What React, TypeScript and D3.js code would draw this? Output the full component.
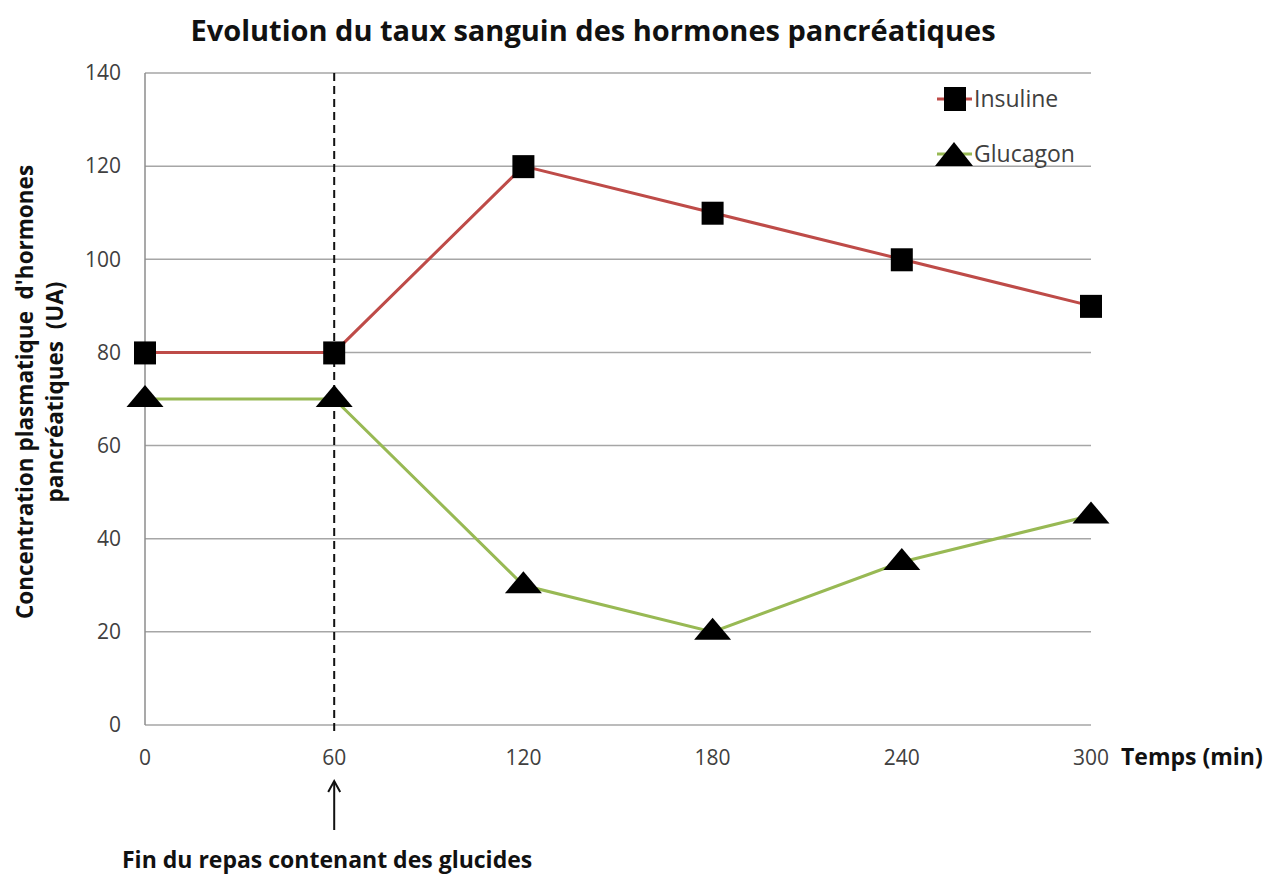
import React from "react";
import * as d3 from "d3";

const temps = [0, 60, 120, 180, 240, 300];
const insuline = [80, 80, 120, 110, 100, 90];
const glucagon = [70, 70, 30, 20, 35, 45];
const yTicks = [0, 20, 40, 60, 80, 100, 120, 140];

const W = 1280;
const H = 878;
const font = "'Open Sans', 'Noto Sans', sans-serif";

// flat black triangle marker, base a bit under the point
const triPath = (w: number, up: number, down: number) => {
  const p = d3.path();
  p.moveTo(0, -up);
  p.lineTo(w / 2, down);
  p.lineTo(-w / 2, down);
  p.closePath();
  return p.toString();
};

const App = () => {
  const x = d3.scaleLinear().domain([0, 300]).range([145, 1091]);
  const y = d3.scaleLinear().domain([0, 140]).range([725, 73]);

  const mkLine = d3
    .line<number>()
    .x((d, i) => x(temps[i]))
    .y((d) => y(d));

  const tri = triPath(37, 14, 8);

  return (
    <svg width={W} height={H} style={{ position: "absolute", left: 0, top: 0 }}>
      <rect width={W} height={H} fill="#fff" />
      <text x={593} y={41} textAnchor="middle" fontFamily={font} fontWeight="bold" fontSize={29} fill="#111">
        Evolution du taux sanguin des hormones pancréatiques
      </text>

      {/* grid */}
      {yTicks.map((t) => (
        <g key={t}>
          <line x1={x(0)} x2={x(300)} y1={y(t)} y2={y(t)} stroke="#a6a6a6" strokeWidth={1.5} />
          <text x={121} y={y(t)} dy="0.35em" textAnchor="end" fontFamily={font} fontSize={21} fill="#404040">
            {t}
          </text>
        </g>
      ))}
      <line x1={x(0)} x2={x(0)} y1={y(140)} y2={y(0)} stroke="#8c8c8c" strokeWidth={1.5} />
      {temps.map((t) => (
        <text key={t} x={x(t)} y={765} textAnchor="middle" fontFamily={font} fontSize={21} fill="#404040">
          {t}
        </text>
      ))}
      <text x={1121} y={765} fontFamily={font} fontWeight="bold" fontSize={23} fill="#111">
        Temps (min)
      </text>

      {/* y label */}
      <g transform={`translate(33,392) rotate(-90)`}>
        <text xmlSpace="preserve" textAnchor="middle" fontFamily={font} fontWeight="bold" fontSize={22.5} fill="#111">
          {"Concentration plasmatique  d'hormones"}
        </text>
        <text xmlSpace="preserve" y={30} textAnchor="middle" fontFamily={font} fontWeight="bold" fontSize={22.5} fill="#111">
          {"pancréatiques  (UA)"}
        </text>
      </g>

      {/* repas */}
      <line x1={x(60)} x2={x(60)} y1={y(140)} y2={732} stroke="#111" strokeWidth={2} strokeDasharray="8,5" />
      <line x1={x(60)} x2={x(60)} y1={830} y2={782} stroke="#111" strokeWidth={2} />
      <path d={`M${x(60) - 6},${792} L${x(60)},${781} L${x(60) + 6},${792}`} fill="none" stroke="#111" strokeWidth={2} />
      <text x={122} y={868} fontFamily={font} fontWeight="bold" fontSize={23} fill="#111">
        Fin du repas contenant des glucides
      </text>

      {/* series */}
      <path d={mkLine(insuline) || ""} fill="none" stroke="#be4b48" strokeWidth={3} />
      <path d={mkLine(glucagon) || ""} fill="none" stroke="#98b954" strokeWidth={3} />
      {insuline.map((v, i) => (
        <rect key={i} x={x(temps[i]) - 11} y={y(v) - 11} width={22} height={23} fill="#000" />
      ))}
      {glucagon.map((v, i) => (
        <path key={i} d={tri} transform={`translate(${x(temps[i])},${y(v)})`} fill="#000" />
      ))}

      {/* legend */}
      <line x1={937} x2={972} y1={99} y2={99} stroke="#be4b48" strokeWidth={3} />
      <rect x={944} y={87} width={22} height={24} fill="#000" />
      <text x={974} y={99} dy="0.35em" fontFamily={font} fontSize={23} fill="#404040">
        Insuline
      </text>
      <line x1={937} x2={972} y1={154} y2={154} stroke="#98b954" strokeWidth={3} />
      <path d={triPath(38, 14, 10)} transform={`translate(954,156)`} fill="#000" />
      <text x={974} y={154} dy="0.35em" fontFamily={font} fontSize={23} fill="#404040">
        Glucagon
      </text>
    </svg>
  );
};

export default App;
